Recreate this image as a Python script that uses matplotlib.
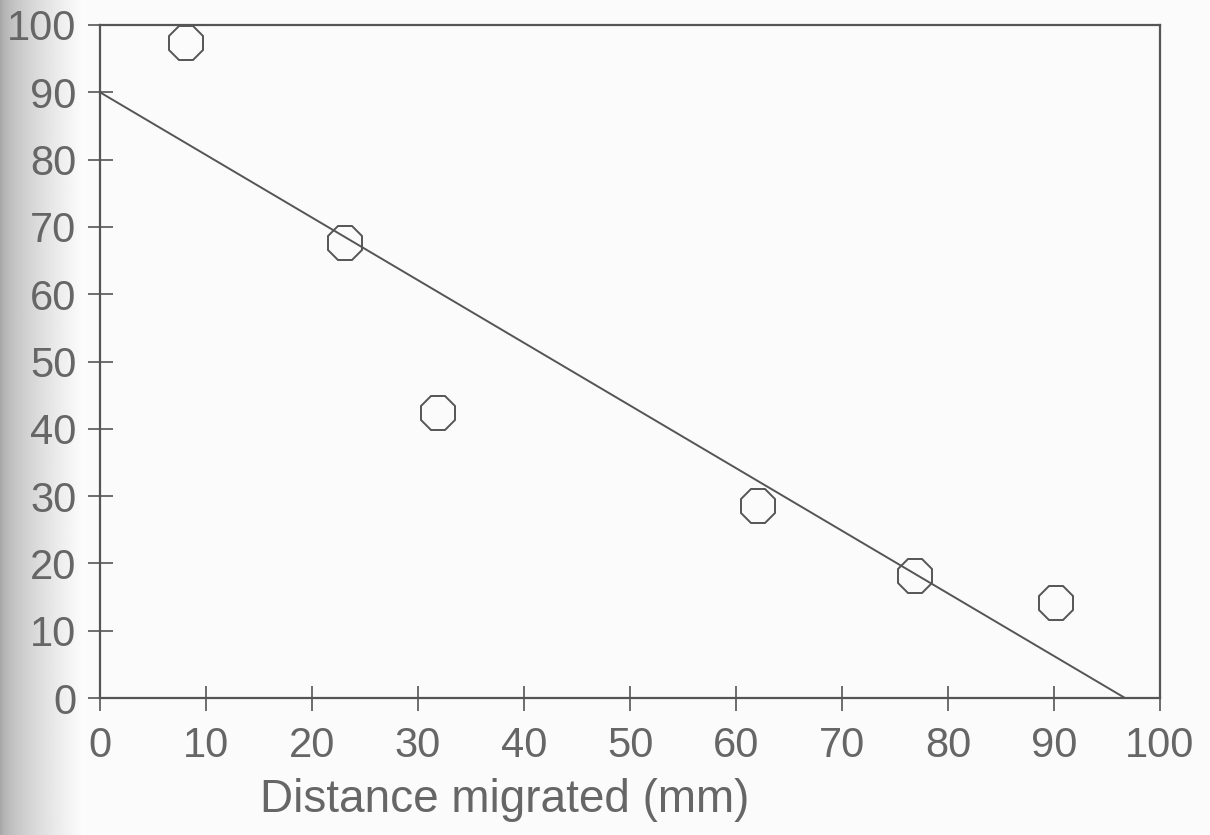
import numpy as np
import matplotlib.pyplot as plt

# data
distance = [8.1, 23.1, 31.9, 62.1, 76.9, 90.2]
value = [97.3, 67.6, 42.4, 28.6, 18.2, 14.1]
fit_x = [0, 96.7]
fit_y = [90, 0]
xticks = list(range(0, 101, 10))
yticks = list(range(0, 101, 10))

ink = '#555555'
txt = '#666666'
plt.rcParams['font.family'] = ['Liberation Sans', 'DejaVu Sans']

fig = plt.figure(figsize=(12.10, 8.35), dpi=100)
fig.patch.set_facecolor('#fbfbfb')

# scanner shadow along the left edge
shade = fig.add_axes([0, 0, 0.07, 1], zorder=-5)
grad = np.linspace(0.0, 1.0, 100)[None, :] ** 0.6
shade.imshow(np.repeat(grad, 10, axis=0), cmap='gray', vmin=-1.9, vmax=1.02,
             aspect='auto', extent=[0, 1, 0, 1])
shade.axis('off')

ax = fig.add_axes([100 / 1210, 1 - 698 / 835, 1060 / 1210, 673 / 835])
ax.patch.set_alpha(0)
ax.plot(fit_x, fit_y, color=ink, lw=1.4)
ax.plot(distance, value, linestyle='none', marker='8', markersize=26,
        markerfacecolor='none', markeredgecolor=ink, markeredgewidth=1.4)

ax.set_xlim(0, 100)
ax.set_ylim(0, 100)
ax.set_xticks(xticks)
ax.set_yticks(yticks)
for s in ax.spines.values():
    s.set_color(ink)
    s.set_linewidth(1.6)
ax.tick_params(direction='inout', length=18, width=1.2, color=ink,
               labelcolor=txt, labelsize=30)
ax.tick_params(axis='x', pad=11)
ax.tick_params(axis='y', pad=8)

fig.text(505 / 1210, 1 - 812 / 835, 'Distance migrated (mm)', fontsize=33,
         color=txt, ha='center', va='baseline')

fig.savefig('out.png', dpi=100, facecolor=fig.get_facecolor())
